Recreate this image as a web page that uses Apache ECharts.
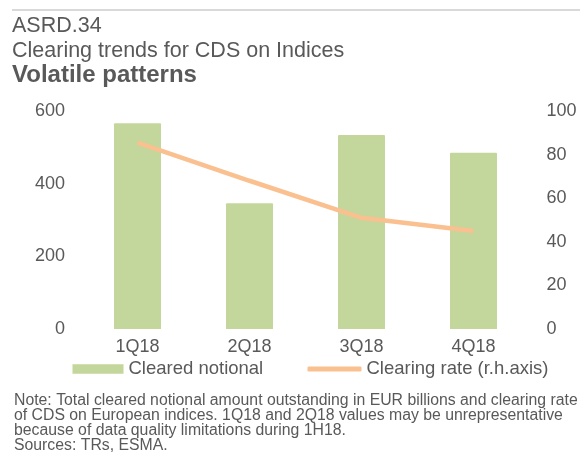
<!DOCTYPE html>
<html>
<head>
<meta charset="utf-8">
<script src="https://cdn.jsdelivr.net/npm/echarts@6/dist/echarts.min.js"></script>
<style>
html,body{margin:0;padding:0;background:#fff;}
#chart{width:580px;height:462px;}
</style>
</head>
<body>
<div id="chart"></div>
<script>
var categories = ['1Q18', '2Q18', '3Q18', '4Q18'];
var clearedNotional = [566, 346, 534, 485];
var clearingRate = [85.5, 68, 51, 45];
var leftTicks = { min: 0, max: 600, interval: 200 };
var rightTicks = { min: 0, max: 100, interval: 20 };

var FONT = '"Liberation Sans", Arial, sans-serif';
var TXT = '#595959';

var chart = echarts.init(document.getElementById('chart'), null, { renderer: 'canvas' });
chart.setOption({
  animation: false,
  backgroundColor: '#fff',
  grid: { left: 81.5, right: 50.5, top: 111, bottom: 133 },
  legend: [
    {
      data: [{ name: 'Cleared notional', icon: 'rect' }],
      left: 72.5, top: 359.5, itemWidth: 51, itemHeight: 9.5, itemGap: 0,
      textStyle: { fontFamily: FONT, fontSize: 18.5, color: TXT, padding: [0, 0, 0, 0] },
      padding: 0
    },
    {
      data: [{ name: 'Clearing rate (r.h.axis)', icon: 'roundRect' }],
      left: 307.5, top: 359.5, itemWidth: 54, itemHeight: 5, itemGap: 0,
      textStyle: { fontFamily: FONT, fontSize: 18.5, color: TXT, padding: [0, 0, 0, 0] },
      padding: 0
    }
  ],
  xAxis: {
    type: 'category',
    data: categories,
    axisLine: { show: false },
    axisTick: { show: false },
    axisLabel: { fontFamily: FONT, fontSize: 18, color: TXT, margin: 9 }
  },
  yAxis: [
    {
      type: 'value', min: leftTicks.min, max: leftTicks.max, interval: leftTicks.interval,
      splitLine: { show: false }, axisLine: { show: false }, axisTick: { show: false },
      axisLabel: { fontFamily: FONT, fontSize: 18, color: TXT, margin: 16.5 }
    },
    {
      type: 'value', min: rightTicks.min, max: rightTicks.max, interval: rightTicks.interval,
      position: 'right',
      splitLine: { show: false }, axisLine: { show: false }, axisTick: { show: false },
      axisLabel: { fontFamily: FONT, fontSize: 18, color: TXT, margin: 17 }
    }
  ],
  series: [
    {
      name: 'Cleared notional', type: 'bar', data: clearedNotional, yAxisIndex: 0,
      barWidth: 47, itemStyle: { color: '#c3d69b', borderRadius: [1, 1, 0, 0] }
    },
    {
      name: 'Clearing rate (r.h.axis)', type: 'line', data: clearingRate, yAxisIndex: 1,
      symbol: 'none', lineStyle: { color: '#fac090', width: 4.5 }, itemStyle: { color: '#fac090' }
    }
  ],
  graphic: [
    { type: 'rect', shape: { x: 12, y: 9, width: 570, height: 2 }, style: { fill: '#d9d9d9' } },
    { type: 'text', x: 12, y: 15.5, style: { text: 'ASRD.34', font: '21.5px ' + FONT, fill: TXT } },
    { type: 'text', x: 12, y: 40, style: { text: 'Clearing trends for CDS on Indices', font: '21.5px ' + FONT, fill: TXT } },
    { type: 'text', x: 12, y: 63, style: { text: 'Volatile patterns', font: 'bold 24px ' + FONT, fill: TXT } },
    { type: 'text', x: 14, y: 392.5, style: {
        text: 'Note: Total cleared notional amount outstanding in EUR billions and clearing rate\nof CDS on European indices. 1Q18 and 2Q18 values may be unrepresentative\nbecause of data quality limitations during 1H18.\nSources: TRs, ESMA.',
        font: '15.8px ' + FONT, fill: TXT, lineHeight: 15.3 } }
  ]
});
</script>
</body>
</html>
